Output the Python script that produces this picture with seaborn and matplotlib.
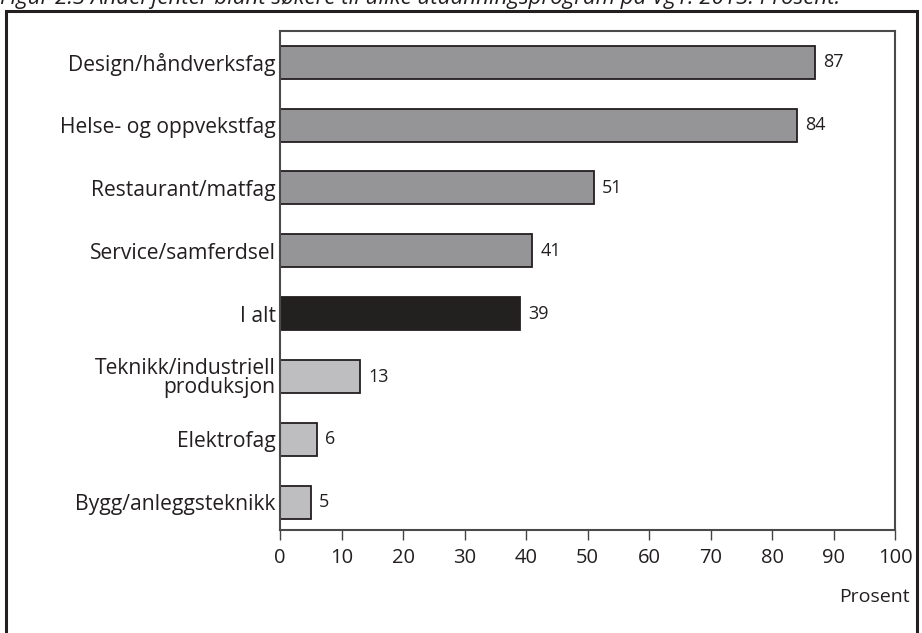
import matplotlib
matplotlib.use("Agg")
import matplotlib.pyplot as plt
import seaborn as sns
import pandas as pd
from matplotlib.patches import Rectangle

# Andel jenter blant søkere, Vg1 2013
categories = [
    "Design/håndverksfag",
    "Helse- og oppvekstfag",
    "Restaurant/matfag",
    "Service/samferdsel",
    "I alt",
    "Teknikk/industriell\nproduksjon",
    "Elektrofag",
    "Bygg/anleggsteknikk",
]
values = [87, 84, 51, 41, 39, 13, 6, 5]
x_ticks = [0, 10, 20, 30, 40, 50, 60, 70, 80, 90, 100]

title = "Figur 2.3 Andel jenter blant søkere til ulike utdanningsprogram på Vg1. 2013. Prosent."

mid_grey = "#949598"
light_grey = "#bdbec1"
black = "#231f20"
bar_colors = [mid_grey] * 4 + [black] + [light_grey] * 3

df = pd.DataFrame({"kategori": categories, "prosent": values})

sns.set_theme(style="white")
plt.rcParams["font.family"] = ["Open Sans", "DejaVu Sans"]

fig = plt.figure(figsize=(9.22, 6.33), dpi=100)
ax = fig.add_axes([280 / 922, 1 - 530 / 633, (895 - 280) / 922, (530 - 31) / 633])

sns.barplot(
    data=df, x="prosent", y="kategori", hue="kategori",
    palette=dict(zip(categories, bar_colors)), width=0.525,
    edgecolor="#231f20", linewidth=1.3, legend=False, ax=ax,
)

for cont in ax.containers:
    ax.bar_label(cont, fmt="%d", padding=6, fontsize=13, color="#231f20")

ax.set_xlim(0, 100)
ax.set_ylim(7.44, -0.495)
ax.set_xticks(x_ticks)
ax.set_xticklabels([str(t) for t in x_ticks], fontsize=14.5, color="#231f20")
ax.tick_params(axis="x", bottom=True, length=7, width=1, color="#444444", pad=6)
ax.tick_params(axis="y", left=False, length=0, labelsize=15.2,
               labelcolor="#231f20", pad=3)
for lbl in ax.get_yticklabels():
    lbl.set_linespacing(0.9)
ax.set_xlabel("")
ax.set_ylabel("")
for sp in ax.spines.values():
    sp.set_visible(True)
    sp.set_color("#4a4a4a")
    sp.set_linewidth(1.5)

fig.text(910 / 922, 1 - 597 / 633, "Prosent", ha="right", va="center",
         fontsize=14, color="#231f20")

# title cut off at the top edge, as in the source scan
fig.text(0 / 922, 1 - 4 / 633, title, ha="left", va="baseline",
         fontsize=16, style="italic", color="#231f20")

# outer frame
fig.patches.append(Rectangle((6 / 922, -0.05), (917 - 6) / 922, 1.05 - 11 / 633,
                             transform=fig.transFigure, fill=False,
                             edgecolor="#231f20", linewidth=2.2))

fig.savefig("out.png", dpi=100)
